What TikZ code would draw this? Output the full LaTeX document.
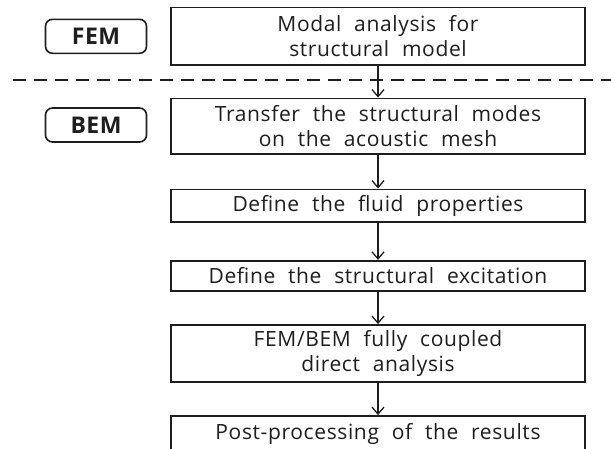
\documentclass[tikz,border=0pt]{standalone}
\usepackage{fontspec}
\setmainfont{Open Sans}
\newfontfamily\stepfont[LetterSpace=3,WordSpace=2.1]{Open Sans}
\newfontfamily\tagfont[LetterSpace=2]{Open Sans}
\usetikzlibrary{positioning,arrows.meta}
\definecolor{InkGray}{RGB}{30,30,30}
\tikzset{
  stepbox/.style={draw=InkGray,fill=white,rectangle,line width=1.8pt,
                  minimum width=414pt,inner sep=0pt,align=center,
                  text=InkGray,font=\stepfont\fontsize{21}{25}\selectfont},
  tagbox/.style={draw=InkGray,fill=white,rectangle,rounded corners=7pt,
                 line width=1.6pt,minimum width=101pt,minimum height=34pt,
                 inner sep=0pt,text=InkGray,
                 font=\tagfont\fontsize{23}{26}\selectfont\bfseries},
  arr/.style={-{Straight Barb[length=7pt,width=12pt]},InkGray,line width=1.3pt},
  sep/.style={InkGray,line width=2.4pt,dash pattern=on 12.5pt off 8.5pt},
}

\begin{document}
\begin{tikzpicture}[x=1pt,y=-1pt]
    \useasboundingbox (0,0) rectangle (611,448);
    % Node definitions
    \node[stepbox, minimum height=57.5pt] (modal) at (378, 36.2) {Modal analysis for\\structural model};
    \node[stepbox, minimum height=55.5pt] (transfer) at (378, 126.2) {Transfer the structural modes\\on the acoustic mesh};
    \node[stepbox, minimum height=32.5pt] (fluid) at (378, 205.7) {Define the fluid properties};
    \node[stepbox, minimum height=30.5pt] (excite) at (378, 276) {Define the structural excitation};
    \node[stepbox, minimum height=57pt] (coupled) at (378, 353.5) {FEM/BEM fully coupled\\direct analysis};
    \node[stepbox, minimum height=36pt] (post) at (378, 434) {Post-processing of the results};

    % Separator
    \coordinate (sepL) at (13, 80);
    \coordinate (sepR) at (611, 80);
    \draw[sep] (sepL) -- (sepR);

    % Edges
    \draw[arr] (modal) -- (transfer);
    \draw[arr] (transfer) -- (fluid);
    \draw[arr] (fluid) -- (excite);
    \draw[arr] (excite) -- (coupled);
    \draw[arr] (coupled) -- (post);

    % Labels
    \node[tagbox] (femtag) at (96, 36.3) {FEM};
    \node[tagbox] (bemtag) at (96, 125) {BEM};
\end{tikzpicture}
\end{document}
